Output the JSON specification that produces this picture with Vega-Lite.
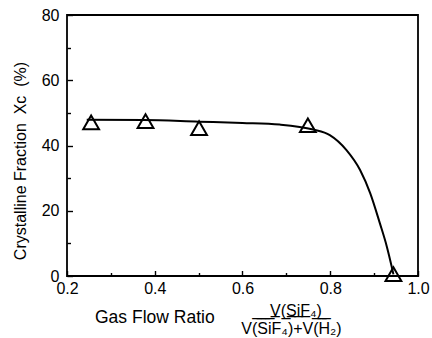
{
  "$schema": "https://vega.github.io/schema/vega-lite/v6.json",
  "width": 351,
  "height": 261,
  "autosize": {"type": "none"},
  "padding": {"left": 67, "top": 15, "right": 14, "bottom": 62},
  "background": "white",
  "config": {
    "view": {"stroke": "black", "strokeWidth": 1.8},
    "font": "Liberation Sans",
    "axis": {"labelFont": "Liberation Sans", "titleFont": "Liberation Sans", "labelColor": "black", "titleColor": "black", "domainColor": "black", "tickColor": "black", "grid": false}
  },
  "title": {"text": "Gas Flow Ratio", "orient": "bottom", "anchor": "start", "frame": "group", "fontSize": 17.5, "fontWeight": "normal", "font": "Liberation Sans", "color": "black", "dx": 28, "dy": -31},
  "datasets": {
    "points": [
      {"ratio": 0.255, "xc": 47.1},
      {"ratio": 0.379, "xc": 47.5},
      {"ratio": 0.501, "xc": 45.3},
      {"ratio": 0.749, "xc": 46.2},
      {"ratio": 0.944, "xc": 0.6}
    ],
    "curve": [
      {"ratio": 0.245, "xc": 47.9},
      {"ratio": 0.375, "xc": 47.8},
      {"ratio": 0.5, "xc": 47.3},
      {"ratio": 0.6, "xc": 46.9},
      {"ratio": 0.685, "xc": 46.4},
      {"ratio": 0.761, "xc": 44.9},
      {"ratio": 0.799, "xc": 43.2},
      {"ratio": 0.837, "xc": 38.6},
      {"ratio": 0.868, "xc": 32.5},
      {"ratio": 0.891, "xc": 25.4},
      {"ratio": 0.913, "xc": 16.2},
      {"ratio": 0.929, "xc": 9.0},
      {"ratio": 0.94, "xc": 2.9},
      {"ratio": 0.944, "xc": 0.5}
    ]
  },
  "resolve": {"axis": {"x": "independent", "y": "independent"}},
  "layer": [
    {
      "data": {"name": "curve"},
      "mark": {"type": "line", "interpolate": "monotone", "color": "black", "strokeWidth": 2},
      "encoding": {
        "x": {
          "field": "ratio",
          "type": "quantitative",
          "scale": {"domain": [0.2, 1.0], "nice": false, "zero": false},
          "axis": {
            "orient": "bottom",
            "values": [0.2, 0.4, 0.6, 0.8, 1.0],
            "format": ".1f",
            "offset": -5.5,
            "ticks": true,
            "tickSize": 5.5,
            "tickWidth": 1.4,
            "domain": false,
            "labelFontSize": 16,
            "labelPadding": 4.5,
            "labelFlush": false,
            "labelOverlap": false,
            "title": ["\u00a0\u0332\u00a0\u0332\u00a0\u0332\u00a0\u0332V\u0332(\u0332S\u0332i\u0332F\u0332₄\u0332)\u0332\u00a0\u0332", "V(SiF₄)+V(H₂)"],
            "titleFontSize": 16,
            "titleFontWeight": "normal",
            "titleLineHeight": 18,
            "titleX": 224,
            "titleY": 44.5,
            "titleAlign": "center",
            "titleBaseline": "alphabetic"
          }
        },
        "y": {
          "field": "xc",
          "type": "quantitative",
          "scale": {"domain": [0, 80], "nice": false},
          "axis": {
            "orient": "left",
            "values": [0, 20, 40, 60, 80],
            "format": "d",
            "offset": -5.5,
            "ticks": true,
            "tickSize": 5.5,
            "tickWidth": 1.4,
            "domain": false,
            "labelFontSize": 16,
            "labelPadding": 8,
            "labelFlush": false,
            "labelOverlap": false,
            "title": "Crystalline Fraction\u00a0\u00a0Xc\u00a0\u00a0(%)",
            "titleFontSize": 16,
            "titleFontWeight": "normal",
            "titleX": -52.5,
            "titleY": 145.5,
            "titleAngle": -90,
            "titleAlign": "center",
            "titleBaseline": "middle"
          }
        }
      }
    },
    {
      "data": {"name": "points"},
      "mark": {"type": "point", "shape": "triangle-up", "size": 250, "filled": false, "color": "black", "strokeWidth": 2, "opacity": 1},
      "encoding": {
        "x": {
          "field": "ratio",
          "type": "quantitative",
          "axis": {
            "orient": "bottom",
            "values": [0.3, 0.5, 0.7, 0.9],
            "offset": -3.5,
            "ticks": true,
            "tickSize": 3.5,
            "tickWidth": 1.4,
            "domain": false,
            "labels": false,
            "title": null
          }
        },
        "y": {
          "field": "xc",
          "type": "quantitative",
          "axis": {
            "orient": "left",
            "values": [10, 30, 50, 70],
            "offset": -3.5,
            "ticks": true,
            "tickSize": 3.5,
            "tickWidth": 1.4,
            "domain": false,
            "labels": false,
            "title": null
          }
        }
      }
    }
  ]
}
